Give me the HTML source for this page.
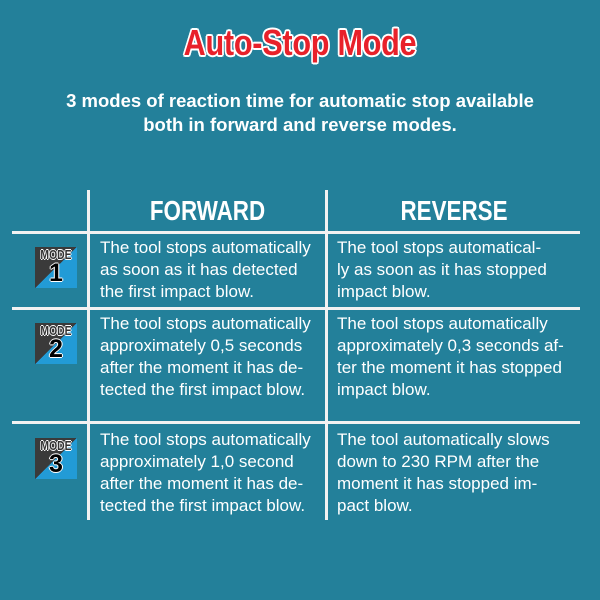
<!DOCTYPE html>
<html><head><meta charset="utf-8"><style>
body{margin:0;width:600px;height:600px;background:#23809a;position:relative;overflow:hidden;font-family:"Liberation Sans",Arial,sans-serif;color:#fff}
.a{position:absolute}
.t{left:0;width:600px;text-align:center;top:22px;font-size:36px;font-weight:bold;color:#e8212a;text-shadow:-2px 0 #fff,2px 0 #fff,0 -2px #fff,0 2px #fff,-1.5px -1.5px #fff,1.5px 1.5px #fff,-1.5px 1.5px #fff,1.5px -1.5px #fff;transform:scaleX(0.85);letter-spacing:-0.3px}
.s{left:0;width:600px;text-align:center;top:89px;font-size:18.5px;font-weight:bold;line-height:24px}
.h{top:195px;font-size:28px;font-weight:bold;text-align:center;transform:scaleX(0.8)}
.hl{left:12px;width:568px;height:3px;background:#f2f2f2}
.vl{top:190px;height:330px;width:3px;background:#f2f2f2}
.c{font-size:17px;line-height:22px;white-space:nowrap}
.m{left:35px;width:42px;height:41px;background:linear-gradient(to bottom right,#3a3a3a 50%,#229bd6 50%)}
.m .w{position:absolute;top:1px;left:0;width:42px;text-align:center;font-size:13px;font-weight:bold;color:#333;text-shadow:-1px 0 #fff,1px 0 #fff,0 -1px #fff,0 1px #fff;line-height:14px;transform:scaleX(0.8)}
.m .n{position:absolute;top:12px;left:0;width:42px;text-align:center;font-size:25px;font-weight:bold;color:#000;text-shadow:-1px 0 #fff,1px 0 #fff,0 -1px #fff,0 1px #fff;line-height:28px}
</style></head><body>
<div class="a t">Auto-Stop Mode</div>
<div class="a s">3 modes of reaction time for automatic stop available<br>both in forward and reverse modes.</div>
<div class="a vl" style="left:87px"></div>
<div class="a vl" style="left:325px"></div>
<div class="a hl" style="top:231px"></div>
<div class="a hl" style="top:307px"></div>
<div class="a hl" style="top:421px"></div>
<div class="a h" style="left:90px;width:235px">FORWARD</div>
<div class="a h" style="left:336px;width:236px">REVERSE</div>

<div class="a m" style="top:247px"><div class="w">MODE</div><div class="n">1</div></div>
<div class="a m" style="top:323px"><div class="w">MODE</div><div class="n">2</div></div>
<div class="a m" style="top:438px"><div class="w">MODE</div><div class="n">3</div></div>

<div class="a c" style="left:100px;top:237px">The tool stops automatically<br>as soon as it has detected<br>the first impact blow.</div>
<div class="a c" style="left:337px;top:237px">The tool stops automatical-<br>ly as soon as it has stopped<br>impact blow.</div>
<div class="a c" style="left:100px;top:313px">The tool stops automatically<br>approximately 0,5 seconds<br>after the moment it has de-<br>tected the first impact blow.</div>
<div class="a c" style="left:337px;top:313px">The tool stops automatically<br>approximately 0,3 seconds af-<br>ter the moment it has stopped<br>impact blow.</div>
<div class="a c" style="left:100px;top:429px">The tool stops automatically<br>approximately 1,0 second<br>after the moment it has de-<br>tected the first impact blow.</div>
<div class="a c" style="left:337px;top:429px">The tool automatically slows<br>down to 230 RPM after the<br>moment it has stopped im-<br>pact blow.</div>
</body></html>
